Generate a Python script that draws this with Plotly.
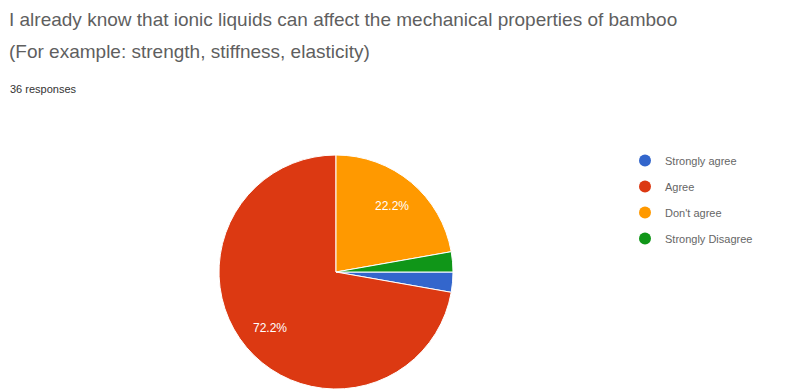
import math
import plotly.graph_objects as go

labels = ["Strongly agree", "Agree", "Don't agree", "Strongly Disagree"]
counts = [1, 26, 8, 1]
colors = ["#3366cc", "#dc3912", "#ff9900", "#109618"]
title_line1 = "I already know that ionic liquids can affect the mechanical properties of bamboo"
title_line2 = "(For example: strength, stiffness, elasticity)"
responses_text = "36 responses"

W, H = 789, 389
total = sum(counts)

# pie geometry (pixels) -> paper domain
cx, cy, r = 336, 272, 117
dom_x = [(cx - r) / W, (cx + r) / W]
dom_y = [max(0, (H - cy - r) / H), (H - cy + r) / H]

fig = go.Figure()
fig.add_trace(go.Pie(
    labels=labels, values=counts, sort=False, direction="clockwise", rotation=90,
    marker=dict(colors=colors, line=dict(color="white", width=1)),
    textinfo="none", showlegend=False, domain=dict(x=dom_x, y=dom_y),
    hoverinfo="label+percent",
))

# percentage labels placed along each slice's mid-angle (large slices only)
annotations = []
cum = 0.0
for c in counts:
    frac = c / total
    if frac > 0.05:
        mid = math.radians(-(cum + frac / 2) * 360)  # clockwise from 3 o'clock
        px = cx + 0.74 * r * math.cos(mid)
        py = cy - 0.74 * r * math.sin(mid)
        annotations.append(dict(
            text=f"{frac * 100:.1f}%", x=px / W, y=1 - py / H, xref="paper", yref="paper",
            xanchor="center", yanchor="middle", showarrow=False,
            font=dict(size=12, color="white", family="Arial")))
    cum += frac

for i, (lab, col) in enumerate(zip(labels, colors)):
    fig.add_trace(go.Scatter(
        x=[None], y=[None], mode="markers", name=lab, legendgroup=f"g{i}",
        marker=dict(symbol="circle", size=12, color=col),
    ))

annotations += [
    dict(text=title_line1, x=7 / W, y=1 - 19 / H, xref="paper", yref="paper",
         xanchor="left", yanchor="middle", showarrow=False,
         font=dict(size=19, color="#5f5f5f", family="Arial")),
    dict(text=title_line2, x=7 / W, y=1 - 52 / H, xref="paper", yref="paper",
         xanchor="left", yanchor="middle", showarrow=False,
         font=dict(size=19, color="#5f5f5f", family="Arial")),
    dict(text=responses_text, x=8 / W, y=1 - 89 / H, xref="paper", yref="paper",
         xanchor="left", yanchor="middle", showarrow=False,
         font=dict(size=11, color="#333333", family="Arial")),
]

fig.update_layout(
    width=W, height=H, margin=dict(l=0, r=0, t=0, b=0),
    paper_bgcolor="white", plot_bgcolor="white",
    xaxis=dict(visible=False), yaxis=dict(visible=False),
    legend=dict(x=625 / W, xanchor="left", y=1 - 146 / H, yanchor="top",
                font=dict(size=11, color="#666666", family="Arial"),
                tracegroupgap=7, bgcolor="rgba(0,0,0,0)"),
    annotations=annotations,
)

fig.write_html("out.html")
